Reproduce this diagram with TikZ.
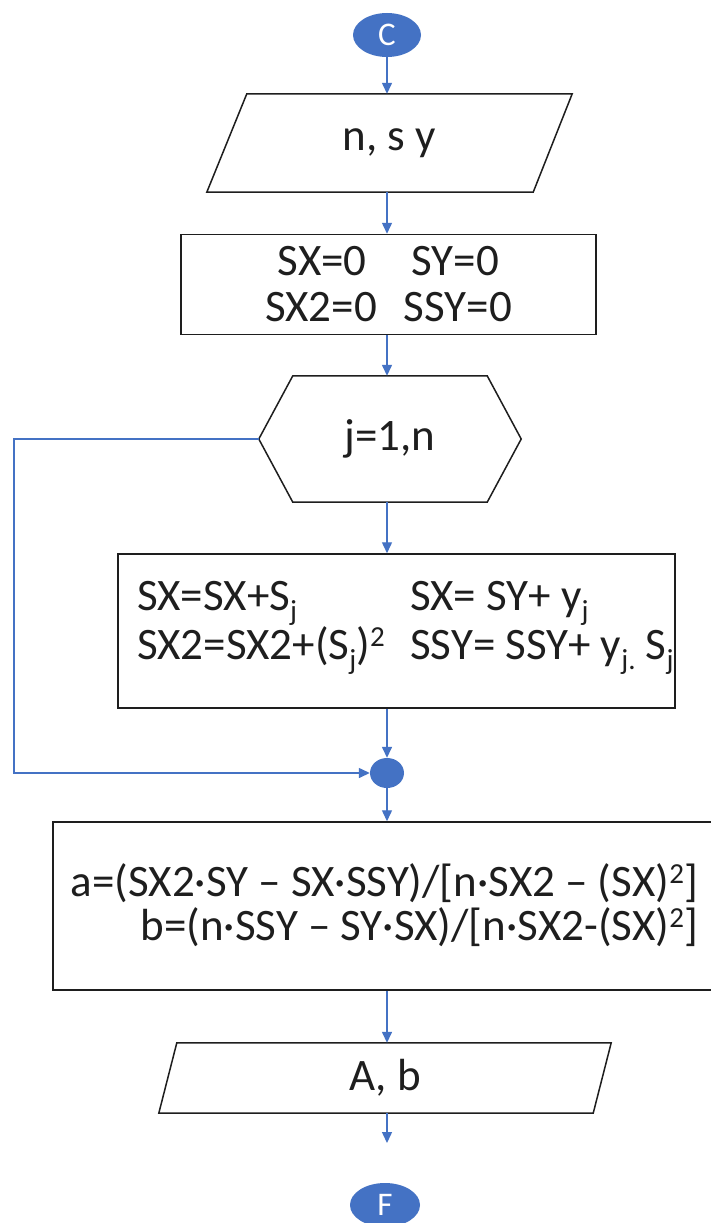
\documentclass[tikz,border=0pt]{standalone}
\usepackage{fontspec}
\setmainfont{Carlito}
\usetikzlibrary{arrows.meta,shapes.geometric}
\definecolor{flowblue}{HTML}{4472C4}
\definecolor{ink}{HTML}{1E1E1E}
% index helpers: lowered / raised small figures
\newcommand\lowidx[1]{\raisebox{-0.22em}{\fontsize{29}{29}\selectfont #1}}
\newcommand\highidx[1]{\raisebox{0.28em}{\fontsize{29}{29}\selectfont #1}}
\begin{document}
\begin{tikzpicture}[x=1pt,y=-1pt,
  every node/.style={font=\fontsize{45}{44}\selectfont, text=ink},
  flow/.style={draw=flowblue, line width=1.4pt, -{Triangle[length=11pt,width=10pt]}},
  outline/.style={draw=ink, line width=1.5pt},
  box/.style={outline, rectangle, inner sep=0pt},
  frame/.style={rectangle, inner sep=0pt},
  term/.style={ellipse, fill=flowblue, inner sep=0pt, text=white, font=\fontsize{33}{33}\selectfont},
  joint/.style={ellipse, fill=flowblue, inner sep=0pt},
]
\useasboundingbox[fill=white] (0,0) rectangle (710,1223);

% vertical spine and loop rail
\coordinate (spine) at (387,0);
\coordinate (rail) at (14,0);

% start connector
\node[term, minimum width=68pt, minimum height=44pt] (C) at (387,35) {C};

% input: n, s y
\node[frame, minimum width=365pt, minimum height=98pt] (P1) at (389.5,143) {n, s y};
\draw[outline] (P1.south west) -- ([xshift=-39pt]P1.south east) -- (P1.north east)
  -- ([xshift=40pt]P1.north west) -- cycle;

% initialisation
\node[box, minimum width=415pt, minimum height=100pt, align=center,
      font=\fontsize{45}{46}\selectfont] (B1) at (388.5,284.5)
  {SX=0\hspace{1.0em}SY=0\\SX2=0\hspace{0.6em}SSY=0};

% loop header
\node[frame, minimum width=262pt, minimum height=126pt] (H) at (390,439) {j=1,n};
\draw[outline] (H.west) -- ([xshift=34pt]H.north west) -- ([xshift=-34pt]H.north east)
  -- (H.east) -- ([xshift=-34pt]H.south east) -- ([xshift=34pt]H.south west) -- cycle;

% accumulation
\node[box, minimum width=557pt, minimum height=154pt] (B2) at (396.5,631) {};
\node[frame, anchor=west, align=left] (B2t) at (137,628)
  {\makebox[273pt][l]{SX=SX+S\lowidx{j}}SX= SY+ y\lowidx{j}\\
   \makebox[273pt][l]{SX2=SX2+(S\lowidx{j})\highidx{2}}SSY= SSY+ y\lowidx{j.} S\lowidx{j}};

% loop junction
\node[joint, minimum width=34pt, minimum height=30pt] (J) at (387,773) {};

% coefficients
\node[box, minimum width=667pt, minimum height=168pt] (B3) at (386.5,906) {};
\node[frame, anchor=east, align=right] (B3t) at (698,905)
  {a=(SX2·SY – SX·SSY)/[n·SX2 – (SX)\highidx{2}]\\
   b=(n·SSY – SY·SX)/[n·SX2-(SX)\highidx{2}]};

% output: A, b
\node[frame, minimum width=452pt, minimum height=70pt] (P2) at (385,1078) {A, b};
\draw[outline] (P2.south west) -- ([xshift=-18pt]P2.south east) -- (P2.north east)
  -- ([xshift=18pt]P2.north west) -- cycle;
\coordinate (tail) at (387,1143);

% end connector
\node[term, minimum width=70pt, minimum height=44pt] (F) at (385,1205) {F};

% connectors
\draw[flow] (C.south -| spine) -- (P1.north -| spine);
\draw[flow] (P1.south -| spine) -- (B1.north -| spine);
\draw[flow] (B1.south -| spine) -- (H.north -| spine);
\draw[flow] (H.south -| spine) -- (B2.north -| spine);
\draw[flow] (B2.south -| spine) -- (J.north);
\draw[flow] (H.west) -- (H.west -| rail) -- (J.west -| rail) -- (J.west);
\draw[flow] (J.south) -- (B3.north -| spine);
\draw[flow] (B3.south -| spine) -- (P2.north -| spine);
\draw[flow] (P2.south -| spine) -- (tail);
\end{tikzpicture}
\end{document}
